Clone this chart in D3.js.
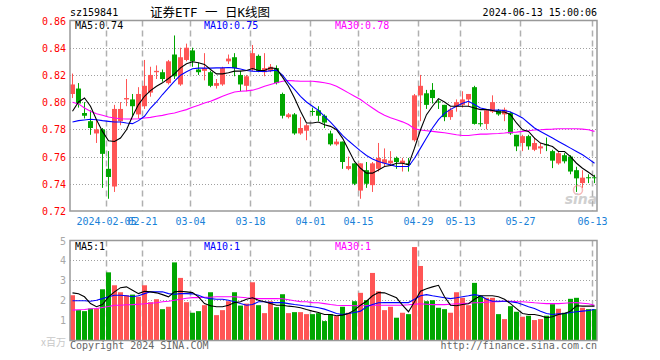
<!DOCTYPE html>
<html>
<head>
<meta charset="utf-8">
<script src="https://cdn.jsdelivr.net/npm/d3@7"></script>
<style>
  html, body { margin: 0; padding: 0; background: #fff; }
  svg text { font-family: "DejaVu Sans Mono", monospace; font-size: 10px; }
</style>
</head>
<body>
<div id="chart"></div>
<script>
// trading days, 2024
const dates = ["01-26","01-29","01-30","01-31","02-01","02-02","02-05","02-06","02-07","02-08",
  "02-19","02-20","02-21","02-22","02-23","02-26","02-27","02-28","02-29","03-01",
  "03-04","03-05","03-06","03-07","03-08","03-11","03-12","03-13","03-14","03-15",
  "03-18","03-19","03-20","03-21","03-22","03-25","03-26","03-27","03-28","03-29",
  "04-01","04-02","04-03","04-08","04-09","04-10","04-11","04-12","04-15","04-16",
  "04-17","04-18","04-19","04-22","04-23","04-24","04-25","04-26","04-29","04-30",
  "05-06","05-07","05-08","05-09","05-10","05-13","05-14","05-15","05-16","05-17",
  "05-20","05-21","05-22","05-23","05-24","05-27","05-28","05-29","05-30","05-31",
  "06-03","06-04","06-05","06-06","06-07","06-11","06-12","06-13"];

const open = [0.806,0.810,0.792,0.786,0.777,0.780,0.751,0.738,0.786,0.802,
  0.802,0.791,0.797,0.807,0.822,0.822,0.814,0.835,0.813,0.831,
  0.838,0.824,0.823,0.822,0.812,0.813,0.830,0.833,0.820,0.812,
  0.824,0.834,0.822,0.823,0.825,0.806,0.789,0.791,0.777,0.779,
  0.7935,0.794,0.790,0.777,0.769,0.771,0.751,0.755,0.735,0.750,
  0.739,0.751,0.755,0.755,0.759,0.755,0.755,0.772,0.805,0.8065,
  0.809,0.8005,0.798,0.789,0.797,0.798,0.802,0.811,0.7845,0.784,
  0.793,0.794,0.791,0.792,0.776,0.770,0.775,0.765,0.766,0.769,
  0.764,0.755,0.761,0.760,0.750,0.7405,0.7448,0.7448];
const close = [0.813,0.799,0.790,0.781,0.780,0.762,0.745,0.795,0.795,0.803,
  0.797,0.806,0.812,0.820,0.823,0.817,0.830,0.819,0.833,0.840,
  0.830,0.822,0.825,0.812,0.814,0.825,0.832,0.825,0.813,0.819,
  0.836,0.823,0.825,0.826,0.814,0.790,0.791,0.777,0.781,0.783,
  0.793,0.790,0.785,0.769,0.771,0.756,0.753,0.740,0.755,0.740,
  0.755,0.759,0.758,0.757,0.756,0.757,0.754,0.805,0.812,0.798,
  0.803,0.7998,0.789,0.7945,0.800,0.802,0.806,0.784,0.784,0.794,
  0.800,0.791,0.7945,0.777,0.7675,0.775,0.7675,0.770,0.7675,0.7687,
  0.757,0.7625,0.7565,0.749,0.744,0.7445,0.7445,0.7441];
const high = [0.821,0.814,0.800,0.794,0.787,0.781,0.764,0.798,0.800,0.817,
  0.806,0.811,0.831,0.826,0.827,0.824,0.831,0.849,0.840,0.843,
  0.840,0.829,0.836,0.823,0.817,0.826,0.835,0.836,0.823,0.820,
  0.842,0.835,0.836,0.828,0.827,0.807,0.792,0.792,0.789,0.784,
  0.796,0.797,0.791,0.779,0.773,0.771,0.760,0.755,0.755,0.756,
  0.756,0.770,0.766,0.764,0.760,0.759,0.759,0.806,0.820,0.809,
  0.814,0.802,0.798,0.796,0.802,0.808,0.806,0.812,0.793,0.795,
  0.805,0.795,0.796,0.793,0.776,0.776,0.776,0.774,0.770,0.774,
  0.765,0.764,0.7625,0.761,0.7525,0.750,0.747,0.7466];
const low = [0.803,0.796,0.788,0.776,0.770,0.737,0.729,0.734,0.783,0.797,
  0.790,0.788,0.795,0.804,0.817,0.815,0.813,0.817,0.812,0.830,
  0.826,0.820,0.816,0.811,0.810,0.812,0.828,0.819,0.808,0.808,
  0.823,0.822,0.819,0.822,0.813,0.788,0.788,0.776,0.776,0.772,
  0.790,0.786,0.781,0.768,0.768,0.751,0.750,0.739,0.729,0.737,
  0.734,0.749,0.753,0.753,0.751,0.749,0.749,0.771,0.786,0.795,
  0.799,0.795,0.786,0.787,0.793,0.796,0.797,0.7835,0.782,0.780,
  0.792,0.790,0.786,0.776,0.764,0.764,0.765,0.764,0.762,0.764,
  0.7515,0.754,0.755,0.747,0.734,0.737,0.7405,0.7405];

const ma5 = [0.7933,0.8001,0.8031,0.7970,0.7871,0.7785,0.7716,0.7711,0.7736,0.7797,
  0.7896,0.7982,0.8043,0.8085,0.8117,0.8142,0.8174,0.8208,0.8252,0.8282,
  0.8297,0.8289,0.8277,0.8240,0.8208,0.8208,0.8216,0.8228,0.8228,0.8233,
  0.8247,0.8233,0.8233,0.8252,0.8247,0.8184,0.8117,0.8031,0.7933,0.7847,
  0.7847,0.7854,0.7834,0.7822,0.7797,0.7736,0.7650,0.7564,0.7514,0.7478,
  0.7478,0.7502,0.7527,0.7534,0.7551,0.7551,0.7540,0.7662,0.7797,0.7908,
  0.7970,0.8026,0.8001,0.7970,0.7970,0.7970,0.7970,0.7957,0.7945,0.7945,
  0.7938,0.7928,0.7928,0.7908,0.7847,0.7797,0.7785,0.7736,0.7699,0.7687,
  0.7674,0.7637,0.7637,0.7600,0.7551,0.7514,0.7485,0.7453];
const ma10 = [0.7854,0.7864,0.7869,0.7874,0.7871,0.7864,0.7859,0.7854,0.7854,0.7847,
  0.7842,0.7864,0.7896,0.7957,0.8001,0.8056,0.8105,0.8154,0.8198,0.8223,
  0.8245,0.8250,0.8250,0.8250,0.8252,0.8252,0.8255,0.8252,0.8243,0.8233,
  0.8228,0.8225,0.8225,0.8230,0.8235,0.8198,0.8142,0.8093,0.8043,0.8001,
  0.7970,0.7940,0.7896,0.7854,0.7805,0.7756,0.7716,0.7679,0.7642,0.7608,
  0.7583,0.7564,0.7551,0.7539,0.7527,0.7527,0.7527,0.7588,0.7662,0.7736,
  0.7810,0.7871,0.7918,0.7947,0.7970,0.7992,0.8006,0.7982,0.7957,0.7947,
  0.7940,0.7942,0.7938,0.7928,0.7908,0.7884,0.7847,0.7810,0.7785,0.7760,
  0.7736,0.7711,0.7687,0.7662,0.7637,0.7613,0.7583,0.7551];
const ma30 = [0.7999,0.7987,0.7957,0.7933,0.7915,0.7903,0.7891,0.7883,0.7878,0.7876,
  0.7876,0.7878,0.7883,0.7888,0.7896,0.7903,0.7913,0.7920,0.7933,0.7945,
  0.7962,0.7977,0.7994,0.8006,0.8024,0.8043,0.8060,0.8075,0.8080,0.8083,
  0.8088,0.8100,0.8117,0.8129,0.8142,0.8154,0.8159,0.8156,0.8154,0.8154,
  0.8154,0.8149,0.8142,0.8134,0.8117,0.8093,0.8068,0.8043,0.8019,0.7987,
  0.7957,0.7928,0.7903,0.7885,0.7870,0.7855,0.7835,0.7805,0.7795,0.7790,
  0.7785,0.7780,0.7775,0.7768,0.7760,0.7755,0.7755,0.7760,0.7765,0.7765,
  0.7768,0.7770,0.7773,0.7778,0.7780,0.7785,0.7790,0.7795,0.7797,0.7800,
  0.7802,0.7805,0.7805,0.7805,0.7805,0.7802,0.7797,0.7785];

// volume, millions
const volume = [2.25,1.5,1.45,1.58,1.58,2.55,3.4,2.75,2.4,2.25,
  2.28,2.17,2.75,1.9,2.05,1.55,1.67,3.9,3.12,1.9,
  1.37,1.45,1.75,2.4,1.25,1.5,1.95,2.4,1.73,1.83,
  2.9,1.75,1.35,1.95,1.65,2.3,1.35,1.4,1.4,1.3,
  1.3,1.35,0.95,1.3,1.2,1.67,1.37,1.95,2.37,2.0,
  3.37,2.45,1.5,1.67,1.12,1.37,1.3,4.67,3.72,1.95,
  2.0,1.62,1.55,1.37,2.4,2.12,1.75,2.87,2.22,2.12,
  2.12,1.3,1.05,1.7,1.42,1.17,1.22,1.0,1.05,1.22,
  1.8,1.57,1.37,2.07,2.12,1.62,1.55,1.55];
const volMa5 = [2.37,2.32,2.17,1.83,1.67,1.78,2.17,2.42,2.63,2.67,
  2.5,2.33,2.45,2.42,2.37,2.28,2.17,2.42,2.45,2.42,
  2.38,2.17,1.83,1.72,1.67,1.67,1.75,1.88,1.92,2.05,
  2.12,2.0,1.92,1.83,1.75,1.75,1.7,1.67,1.62,1.53,
  1.45,1.38,1.28,1.28,1.22,1.25,1.33,1.5,1.75,1.95,
  2.22,2.38,2.37,2.25,2.12,1.75,1.42,1.92,2.45,2.58,
  2.67,2.75,2.17,1.75,1.72,1.78,1.82,2.05,2.22,2.22,
  2.22,2.17,2.05,1.83,1.58,1.33,1.28,1.28,1.22,1.12,
  1.17,1.28,1.33,1.45,1.72,1.7,1.7,1.7];
const volMa10 = [1.97,1.97,1.97,1.95,2.0,2.08,2.17,2.25,2.25,2.22,
  2.17,2.22,2.33,2.42,2.42,2.42,2.33,2.30,2.33,2.33,
  2.32,2.25,2.12,2.08,2.05,2.05,2.0,1.92,1.83,1.75,
  1.78,1.92,1.92,1.88,1.88,1.88,1.83,1.78,1.75,1.7,
  1.67,1.62,1.55,1.45,1.33,1.28,1.33,1.38,1.45,1.67,
  1.78,1.87,1.88,1.88,1.88,1.88,1.88,2.05,2.22,2.28,
  2.22,2.17,2.12,2.08,2.12,2.17,2.22,2.28,2.22,2.05,
  1.95,1.95,1.95,1.92,1.88,1.78,1.67,1.58,1.45,1.33,
  1.28,1.32,1.33,1.38,1.42,1.45,1.48,1.53];
const volMa30 = [1.5,1.52,1.53,1.57,1.58,1.63,1.68,1.75,1.75,1.77,
  1.78,1.8,1.82,1.85,1.87,1.92,1.95,2.0,2.05,2.1,
  2.13,2.13,2.15,2.15,2.17,2.17,2.17,2.17,2.15,2.12,
  2.1,2.08,2.08,2.08,2.08,2.07,2.02,1.97,1.93,1.92,
  1.88,1.87,1.83,1.78,1.75,1.73,1.73,1.72,1.72,1.73,
  1.75,1.75,1.75,1.75,1.75,1.75,1.77,1.8,1.82,1.8,
  1.78,1.78,1.78,1.8,1.82,1.83,1.85,1.87,1.88,1.9,
  1.92,1.93,1.95,1.95,1.93,1.92,1.9,1.87,1.85,1.83,
  1.83,1.83,1.85,1.87,1.88,1.85,1.82,1.75];

const priceTicks = [0.72, 0.74, 0.76, 0.78, 0.80, 0.82, 0.84, 0.86];
const volTicks = [1, 2, 3, 4, 5];
const dateTicks = ["02-05","02-21","03-04","03-18","04-01","04-15","04-29","05-13","05-27","06-13"];
const dateTickLabels = ["2024-02-05","02-21","03-04","03-18","04-01","04-15","04-29","05-13","05-27","06-13"];

const RED = "#ff5555", GREEN = "#00a600";
const maColors = { ma5: "#000000", ma10: "#0000ff", ma30: "#ff00ff" };

const svg = d3.select("#chart").append("svg")
  .attr("width", 660)
  .attr("height", 360);

// plot boxes
const left = 70, right = 597;
const priceTop = 20.5, priceBottom = 211;
const volTop = 240.5, volBottom = 340.5;

const x = d3.scaleBand().domain(dates).range([69.5, 597.5]);
const y = d3.scaleLinear().domain([0.72, 0.86]).range([priceBottom, priceTop]);
const yv = d3.scaleLinear().domain([0, 5]).range([volBottom - 0.5, volTop]);
const cx = d => x(d) + 3;

// clip for the lines
const defs = svg.append("defs");
defs.append("clipPath").attr("id", "clipPrice")
  .append("rect").attr("x", left).attr("y", priceTop).attr("width", right - left).attr("height", priceBottom - priceTop);
defs.append("clipPath").attr("id", "clipVol")
  .append("rect").attr("x", left).attr("y", volTop).attr("width", right - left).attr("height", volBottom - volTop);

// horizontal dotted grid
svg.append("g").selectAll("line")
  .data(priceTicks.slice(1, -1))
  .enter().append("line")
  .attr("x1", left).attr("x2", right)
  .attr("y1", d => Math.round(y(d)) + 0.5)
  .attr("y2", d => Math.round(y(d)) + 0.5)
  .attr("stroke", "#a0a0a0")
  .attr("stroke-dasharray", "1,2");

svg.append("g").selectAll("line")
  .data(volTicks.slice(0, -1))
  .enter().append("line")
  .attr("x1", left).attr("x2", right)
  .attr("y1", d => Math.round(yv(d)) + 0.5)
  .attr("y2", d => Math.round(yv(d)) + 0.5)
  .attr("stroke", "#a0a0a0")
  .attr("stroke-dasharray", "1,2");

// vertical dashed grid at the date ticks
[[priceTop, priceBottom], [volTop, volBottom]].forEach(([t, b]) => {
  svg.append("g").selectAll("line")
    .data(dateTicks)
    .enter().append("line")
    .attr("x1", d => x(d) + 1).attr("x2", d => x(d) + 1)
    .attr("y1", t).attr("y2", b)
    .attr("stroke", "#b0b0b0")
    .attr("stroke-width", 1.5)
    .attr("stroke-dasharray", "6,4");
});

// candles
const candles = svg.append("g").selectAll("g")
  .data(dates.map((d, i) => ({ date: d, o: open[i], c: close[i], h: high[i], l: low[i] })))
  .enter().append("g");

candles.append("line")
  .attr("x1", d => cx(d.date)).attr("x2", d => cx(d.date))
  .attr("y1", d => y(d.h)).attr("y2", d => y(d.l))
  .attr("stroke", d => d.c >= d.o ? RED : GREEN);

candles.append("rect")
  .attr("x", d => x(d.date) + 0.5)
  .attr("width", 5)
  .attr("y", d => y(Math.max(d.o, d.c)))
  .attr("height", d => Math.max(1, Math.abs(y(d.o) - y(d.c))))
  .attr("fill", d => d.c >= d.o ? RED : GREEN);

// volume bars
svg.append("g").selectAll("rect")
  .data(dates.map((d, i) => ({ date: d, v: volume[i], up: close[i] >= open[i] })))
  .enter().append("rect")
  .attr("x", d => x(d.date) + 0.5)
  .attr("width", 5)
  .attr("y", d => yv(d.v))
  .attr("height", d => yv(0) - yv(d.v))
  .attr("fill", d => d.up ? RED : GREEN);

// moving average lines
const priceLine = d3.line().x((d, i) => cx(dates[i])).y(d => y(d));
const volLine = d3.line().x((d, i) => cx(dates[i])).y(d => yv(d));

[[ma30, maColors.ma30], [ma10, maColors.ma10], [ma5, maColors.ma5]].forEach(([s, col]) => {
  svg.append("path")
    .attr("clip-path", "url(#clipPrice)")
    .attr("d", priceLine(s))
    .attr("fill", "none")
    .attr("stroke", col)
    .attr("stroke-width", 1.1);
});
[[volMa30, maColors.ma30], [volMa10, maColors.ma10], [volMa5, maColors.ma5]].forEach(([s, col]) => {
  svg.append("path")
    .attr("clip-path", "url(#clipVol)")
    .attr("d", volLine(s))
    .attr("fill", "none")
    .attr("stroke", col)
    .attr("stroke-width", 1.1);
});

// frames
svg.append("rect")
  .attr("x", left).attr("y", priceTop)
  .attr("width", right - left).attr("height", priceBottom - priceTop)
  .attr("fill", "none").attr("stroke", "#999").attr("stroke-width", 1.5);
svg.append("rect")
  .attr("x", left).attr("y", volTop)
  .attr("width", right - left).attr("height", volBottom - volTop)
  .attr("fill", "none").attr("stroke", "#999").attr("stroke-width", 1.5);

// sina watermark
const logo = svg.append("g").attr("opacity", 0.55);
logo.append("circle").attr("cx", 578).attr("cy", 190).attr("r", 4.5)
  .attr("fill", "none").attr("stroke", "#f08080").attr("stroke-width", 1.5);
logo.append("text").attr("x", 581).attr("y", 204).attr("text-anchor", "middle")
  .style("font-family", "'DejaVu Sans', sans-serif")
  .style("font-size", "14px").style("font-weight", "bold").style("font-style", "italic")
  .attr("fill", "#aaa").text("sina");

// price axis labels
svg.append("g").selectAll("text")
  .data(priceTicks)
  .enter().append("text")
  .attr("x", 66).attr("y", d => y(d) + 4)
  .attr("text-anchor", "end")
  .attr("fill", "#ff0000")
  .text(d => d.toFixed(2));

// volume axis labels
svg.append("g").selectAll("text")
  .data(volTicks)
  .enter().append("text")
  .attr("x", 66).attr("y", d => yv(d) + 4)
  .attr("text-anchor", "end")
  .attr("fill", "#a8a8a8")
  .text(d => d);

svg.append("text").attr("x", 66).attr("y", 346).attr("text-anchor", "end")
  .style("font-family", "'Noto Sans CJK SC', sans-serif")
  .attr("fill", "#c8c8c8").text("x百万");

// date labels (the first two overlap in the original too)
svg.append("g").selectAll("text")
  .data(dateTicks)
  .enter().append("text")
  .attr("x", d => x(d) + 1).attr("y", 225)
  .attr("text-anchor", "middle")
  .attr("fill", "#1a82d8")
  .text((d, i) => dateTickLabels[i]);

// header
svg.append("text").attr("x", 70).attr("y", 16).attr("fill", "#000").text("sz159841");
svg.append("text").attr("x", 210).attr("y", 17).attr("text-anchor", "middle")
  .style("font-family", "'DejaVu Sans Mono', 'Noto Sans CJK SC', monospace")
  .style("font-size", "12.5px")
  .attr("fill", "#000").text("证券ETF 一 日K线图");
svg.append("text").attr("x", 597).attr("y", 16).attr("text-anchor", "end")
  .attr("fill", "#000").text("2024-06-13 15:00:06");

// MA legends
svg.append("text").attr("x", 75).attr("y", 29).attr("fill", maColors.ma5).text("MA5:0.74");
svg.append("text").attr("x", 204).attr("y", 29).attr("fill", maColors.ma10).text("MA10:0.75");
svg.append("text").attr("x", 335).attr("y", 29).attr("fill", maColors.ma30).text("MA30:0.78");
svg.append("text").attr("x", 75).attr("y", 250).attr("fill", maColors.ma5).text("MA5:1");
svg.append("text").attr("x", 204).attr("y", 250).attr("fill", maColors.ma10).text("MA10:1");
svg.append("text").attr("x", 335).attr("y", 250).attr("fill", maColors.ma30).text("MA30:1");

// footer
svg.append("text").attr("x", 70).attr("y", 349).attr("fill", "#666").text("Copyright 2024 SINA.COM");
svg.append("text").attr("x", 597).attr("y", 349).attr("text-anchor", "end")
  .attr("fill", "#666").text("http://finance.sina.com.cn");
</script>
</body>
</html>
